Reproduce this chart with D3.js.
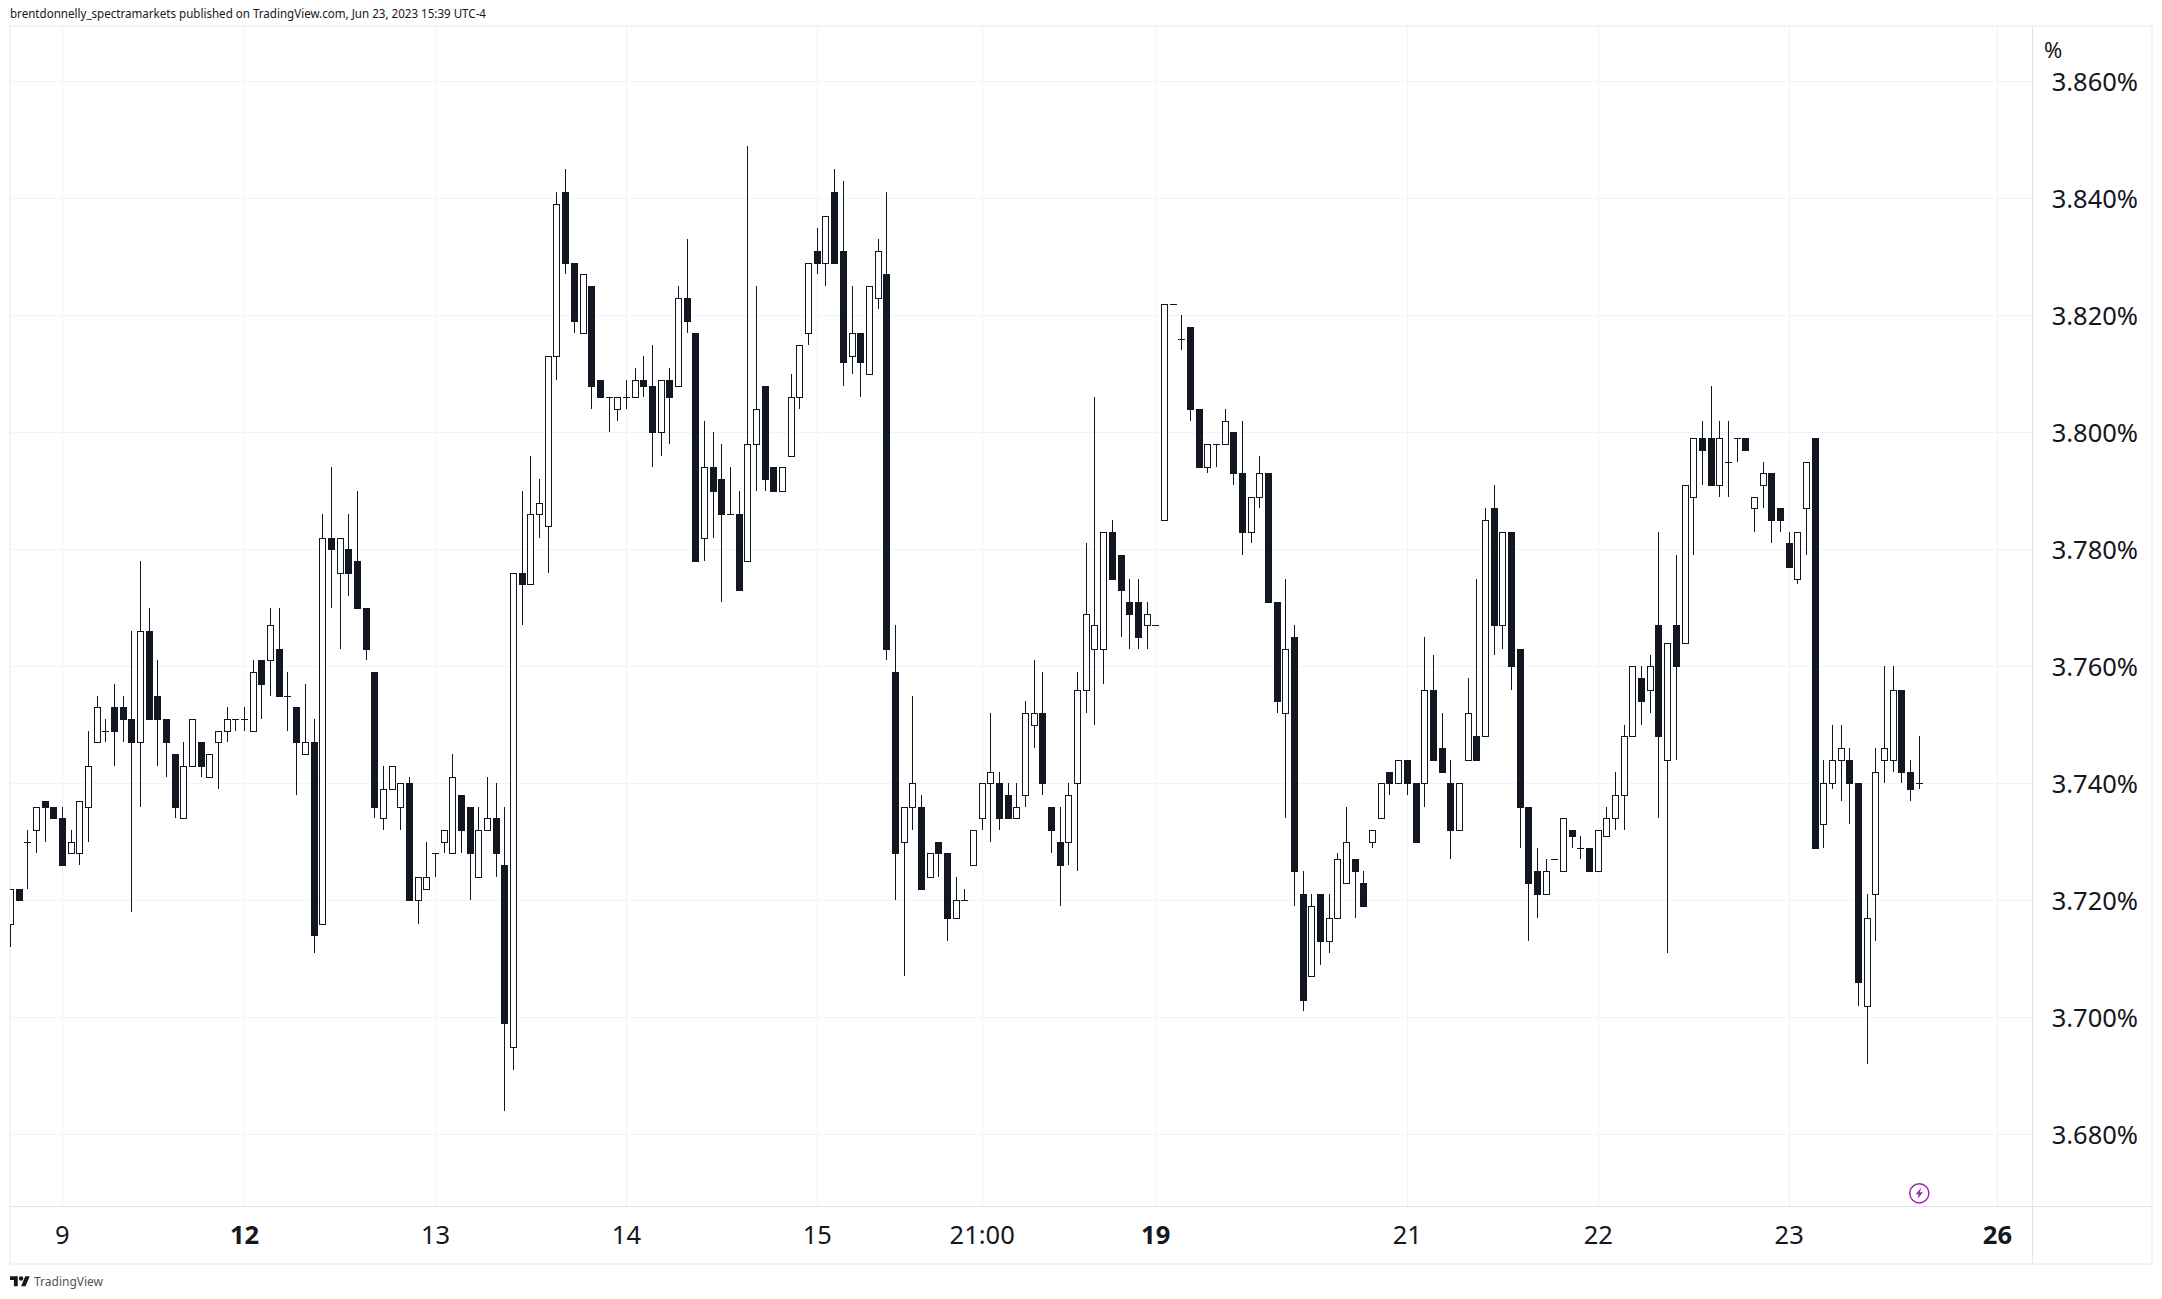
<!DOCTYPE html>
<html>
<head>
<meta charset="utf-8">
<style>
html,body{margin:0;padding:0;background:#fff}
svg{display:block}
text{font-family:"Noto Sans",sans-serif;fill:#131722}
</style>
<script src="https://cdn.jsdelivr.net/npm/d3@7/dist/d3.min.js"></script>
</head>
<body>
<svg id="c" width="2162" height="1299"></svg>
<script>
const opens=[3.716,3.722,3.730,3.732,3.737,3.736,3.734,3.728,3.728,3.736,
3.747,3.749,3.753,3.753,3.751,3.747,3.766,3.755,3.751,3.745,
3.734,3.743,3.747,3.741,3.747,3.749,3.751,3.751,3.749,3.761,
3.761,3.763,3.755,3.753,3.745,3.747,3.716,3.782,3.776,3.780,
3.778,3.770,3.759,3.734,3.739,3.736,3.740,3.720,3.722,3.728,
3.730,3.728,3.738,3.736,3.724,3.732,3.734,3.726,3.695,3.776,
3.774,3.786,3.784,3.813,3.841,3.829,3.817,3.825,3.809,3.806,
3.804,3.806,3.806,3.809,3.808,3.800,3.809,3.808,3.823,3.817,
3.782,3.794,3.792,3.786,3.786,3.778,3.798,3.808,3.794,3.790,
3.796,3.806,3.817,3.831,3.829,3.841,3.831,3.813,3.817,3.810,
3.823,3.827,3.759,3.730,3.736,3.736,3.724,3.730,3.728,3.717,
3.720,3.726,3.734,3.740,3.740,3.738,3.734,3.738,3.750,3.752,
3.736,3.730,3.730,3.740,3.756,3.763,3.763,3.783,3.779,3.771,
3.771,3.767,3.767,3.785,3.822,3.816,3.818,3.804,3.794,3.798,
3.798,3.800,3.793,3.783,3.789,3.793,3.771,3.752,3.765,3.721,
3.707,3.721,3.713,3.717,3.723,3.727,3.723,3.730,3.734,3.742,
3.740,3.744,3.740,3.740,3.756,3.746,3.740,3.732,3.744,3.748,
3.748,3.787,3.767,3.783,3.763,3.736,3.725,3.721,3.727,3.725,
3.732,3.729,3.729,3.725,3.731,3.734,3.738,3.748,3.758,3.756,
3.767,3.744,3.767,3.764,3.789,3.799,3.799,3.791,3.795,3.799,
3.799,3.787,3.791,3.793,3.787,3.781,3.775,3.787,3.799,3.733,
3.740,3.744,3.744,3.740,3.702,3.721,3.744,3.744,3.756,3.742,3.740];
const highs=[3.722,3.722,3.732,3.736,3.737,3.736,3.736,3.732,3.737,3.749,
3.755,3.751,3.757,3.755,3.766,3.778,3.770,3.761,3.751,3.745,
3.747,3.751,3.747,3.745,3.749,3.753,3.751,3.753,3.761,3.761,
3.770,3.770,3.759,3.753,3.757,3.751,3.786,3.794,3.782,3.786,
3.790,3.770,3.759,3.743,3.743,3.740,3.741,3.724,3.730,3.728,
3.732,3.745,3.738,3.736,3.736,3.741,3.740,3.736,3.776,3.790,
3.796,3.792,3.813,3.841,3.845,3.829,3.827,3.825,3.809,3.806,
3.806,3.809,3.811,3.813,3.815,3.809,3.811,3.825,3.833,3.817,
3.802,3.800,3.798,3.794,3.790,3.849,3.825,3.808,3.794,3.794,
3.810,3.815,3.829,3.835,3.837,3.845,3.843,3.825,3.817,3.825,
3.833,3.841,3.767,3.736,3.755,3.738,3.728,3.730,3.728,3.724,
3.722,3.732,3.740,3.752,3.742,3.740,3.740,3.754,3.761,3.759,
3.736,3.736,3.740,3.759,3.781,3.806,3.783,3.785,3.779,3.775,
3.775,3.771,3.767,3.822,3.822,3.820,3.818,3.804,3.798,3.798,
3.804,3.800,3.802,3.789,3.796,3.793,3.771,3.775,3.767,3.725,
3.721,3.721,3.721,3.728,3.736,3.727,3.725,3.732,3.740,3.742,
3.744,3.744,3.740,3.765,3.762,3.752,3.744,3.740,3.758,3.775,
3.787,3.791,3.783,3.783,3.763,3.736,3.729,3.727,3.727,3.734,
3.732,3.731,3.729,3.732,3.736,3.742,3.750,3.760,3.760,3.762,
3.783,3.764,3.779,3.791,3.799,3.802,3.808,3.802,3.802,3.799,
3.799,3.789,3.795,3.793,3.787,3.783,3.783,3.795,3.799,3.744,
3.750,3.750,3.746,3.740,3.721,3.746,3.760,3.760,3.756,3.744,3.748];
const lows=[3.712,3.720,3.722,3.728,3.730,3.734,3.726,3.728,3.726,3.730,
3.747,3.747,3.743,3.747,3.718,3.736,3.751,3.743,3.741,3.734,
3.734,3.743,3.741,3.741,3.739,3.747,3.749,3.749,3.749,3.751,
3.755,3.755,3.749,3.738,3.745,3.711,3.716,3.770,3.763,3.772,
3.770,3.761,3.734,3.732,3.739,3.732,3.720,3.716,3.722,3.724,
3.728,3.728,3.728,3.720,3.724,3.732,3.724,3.684,3.691,3.767,
3.774,3.782,3.776,3.809,3.827,3.817,3.817,3.804,3.806,3.800,
3.802,3.804,3.806,3.806,3.794,3.796,3.798,3.808,3.817,3.778,
3.778,3.782,3.771,3.786,3.773,3.778,3.790,3.790,3.790,3.790,
3.796,3.804,3.815,3.827,3.825,3.829,3.808,3.810,3.806,3.810,
3.821,3.761,3.720,3.707,3.732,3.722,3.724,3.724,3.713,3.717,
3.720,3.726,3.732,3.730,3.732,3.734,3.734,3.736,3.746,3.738,
3.728,3.719,3.726,3.725,3.752,3.750,3.757,3.775,3.765,3.763,
3.763,3.763,3.767,3.785,3.822,3.814,3.802,3.794,3.793,3.794,
3.798,3.791,3.779,3.781,3.787,3.771,3.752,3.734,3.719,3.701,
3.707,3.709,3.711,3.717,3.723,3.717,3.719,3.729,3.734,3.738,
3.740,3.738,3.730,3.736,3.744,3.742,3.727,3.732,3.744,3.744,
3.748,3.762,3.763,3.756,3.729,3.713,3.717,3.721,3.727,3.725,
3.729,3.727,3.725,3.725,3.731,3.732,3.732,3.748,3.750,3.752,
3.734,3.711,3.744,3.764,3.779,3.791,3.791,3.789,3.789,3.795,
3.797,3.783,3.787,3.781,3.783,3.777,3.774,3.779,3.729,3.729,
3.739,3.737,3.733,3.702,3.692,3.713,3.740,3.742,3.740,3.737,3.739];
const closes=[3.722,3.720,3.730,3.736,3.736,3.734,3.726,3.730,3.737,3.743,
3.753,3.749,3.749,3.751,3.747,3.766,3.751,3.751,3.747,3.736,
3.743,3.751,3.743,3.745,3.749,3.751,3.751,3.751,3.759,3.757,
3.767,3.755,3.755,3.747,3.747,3.714,3.782,3.780,3.782,3.776,
3.770,3.763,3.736,3.739,3.743,3.740,3.720,3.724,3.724,3.728,
3.732,3.741,3.732,3.728,3.732,3.734,3.728,3.699,3.776,3.774,
3.786,3.788,3.813,3.839,3.829,3.819,3.827,3.808,3.806,3.806,
3.806,3.806,3.809,3.808,3.800,3.809,3.806,3.823,3.819,3.778,
3.794,3.790,3.786,3.786,3.773,3.798,3.804,3.792,3.790,3.794,
3.806,3.815,3.829,3.829,3.837,3.829,3.812,3.817,3.812,3.825,
3.831,3.763,3.728,3.736,3.740,3.722,3.728,3.728,3.717,3.720,
3.720,3.732,3.740,3.742,3.734,3.734,3.736,3.752,3.752,3.740,
3.732,3.726,3.738,3.756,3.769,3.767,3.783,3.775,3.773,3.769,
3.765,3.769,3.767,3.822,3.822,3.816,3.804,3.794,3.798,3.798,
3.802,3.793,3.783,3.789,3.793,3.771,3.754,3.763,3.725,3.703,
3.719,3.713,3.717,3.727,3.730,3.725,3.719,3.732,3.740,3.740,
3.744,3.740,3.730,3.756,3.744,3.742,3.732,3.740,3.752,3.744,
3.785,3.767,3.783,3.760,3.736,3.723,3.721,3.725,3.727,3.734,
3.731,3.729,3.725,3.732,3.734,3.738,3.748,3.760,3.754,3.760,
3.748,3.764,3.760,3.791,3.799,3.797,3.791,3.799,3.795,3.799,
3.797,3.789,3.793,3.785,3.785,3.777,3.783,3.795,3.729,3.740,
3.744,3.746,3.740,3.706,3.717,3.742,3.746,3.756,3.742,3.739,3.740];

const priceTicks=[3.68,3.70,3.72,3.74,3.76,3.78,3.80,3.82,3.84,3.86];
const timeTickBars=[6,27,49,71,93,112,132,161,183,205,229];
const timeTickLabels=["9","12","13","14","15","21:00","19","21","22","23","26"];
const boldTimeLabels=["12","19","26"];

const INK="#131722",GRID="#f0f3fa",SEP="#e0e3eb";
const L=10,T=27,R=2032,B=1206;
const svg=d3.select("#c");
const x=d3.scaleLinear().domain([0,220]).range([10.33,1919.3]);
const y=d3.scaleLinear().domain([3.68,3.86]).range([1134.3,81.3]);
const n=opens.length;
const idx=d3.range(n);

// grid
const grid=svg.append("g").attr("shape-rendering","crispEdges");
grid.selectAll(".h").data(priceTicks).join("line")
 .attr("x1",L).attr("x2",R).attr("y1",d=>Math.floor(y(d))+.5).attr("y2",d=>Math.floor(y(d))+.5)
 .attr("stroke",GRID);
grid.selectAll(".v").data(timeTickBars).join("line")
 .attr("y1",T).attr("y2",B).attr("x1",d=>Math.floor(x(d))+.5).attr("x2",d=>Math.floor(x(d))+.5)
 .attr("stroke",GRID);

// frame and separators
const border=svg.append("g").attr("shape-rendering","crispEdges");
border.append("rect").attr("x",10).attr("y",26).attr("width",2142).attr("height",1238)
 .attr("fill","none").attr("stroke",GRID).attr("stroke-width",2);
border.append("line").attr("x1",R+.5).attr("x2",R+.5).attr("y1",T).attr("y2",1263).attr("stroke",SEP);
border.append("line").attr("x1",L).attr("x2",2151).attr("y1",B+.5).attr("y2",B+.5).attr("stroke",SEP);

// candles
svg.append("clipPath").attr("id","pane").append("rect").attr("x",L).attr("y",T).attr("width",R-L).attr("height",B-T);
const pane=svg.append("g").attr("clip-path","url(#pane)").attr("shape-rendering","crispEdges");
const BW=7;
const cx=i=>Math.floor(x(i));
const bodyTop=i=>Math.round(y(Math.max(opens[i],closes[i])));
const bodyBot=i=>Math.round(y(Math.min(opens[i],closes[i])));
pane.selectAll(".wick").data(idx).join("rect").attr("class","wick")
 .attr("x",cx).attr("width",1)
 .attr("y",i=>Math.round(y(highs[i])))
 .attr("height",i=>Math.max(1,Math.round(y(lows[i]))-Math.round(y(highs[i]))))
 .attr("fill",INK);
pane.selectAll(".doji").data(idx.filter(i=>opens[i]===closes[i])).join("rect").attr("class","doji")
 .attr("x",i=>cx(i)-3).attr("width",BW).attr("y",bodyTop).attr("height",1).attr("fill",INK);
pane.selectAll(".down").data(idx.filter(i=>opens[i]>closes[i])).join("rect").attr("class","down")
 .attr("x",i=>cx(i)-3).attr("width",BW).attr("y",bodyTop).attr("height",i=>Math.max(1,bodyBot(i)-bodyTop(i)+1)).attr("fill",INK);
pane.selectAll(".up").data(idx.filter(i=>opens[i]<closes[i])).join("rect").attr("class","up")
 .attr("x",i=>cx(i)-3+.5).attr("width",BW-1).attr("y",i=>bodyTop(i)+.5).attr("height",i=>Math.max(1,bodyBot(i)-bodyTop(i)))
 .attr("fill","#fff").attr("stroke",INK).attr("stroke-width",1);

// price axis
svg.append("g").selectAll("text").data(priceTicks).join("text")
 .attr("x",2138).attr("y",d=>y(d)+9.5).attr("text-anchor","end")
 .attr("font-size",25.5).text(d=>d.toFixed(3)+"%");
svg.append("text").attr("x",2044).attr("y",58).attr("font-size",22).text("%");

// time axis
svg.append("g").selectAll("text").data(timeTickBars).join("text")
 .attr("x",d=>x(d)).attr("y",1244).attr("text-anchor","middle")
 .attr("font-size",25.5)
 .attr("font-weight",(d,i)=>boldTimeLabels.includes(timeTickLabels[i])?700:400)
 .text((d,i)=>timeTickLabels[i]);

// header, footer
svg.append("text").attr("x",10).attr("y",18).attr("font-size",13)
 .attr("textLength",476).attr("lengthAdjust","spacingAndGlyphs")
 .text("brentdonnelly_spectramarkets published on TradingView.com, Jun 23, 2023 15:39 UTC-4");
const logo=svg.append("g").attr("transform","translate(10,1274) scale(0.555)").attr("fill",INK);
logo.append("path").attr("d","M14 22H7V11H0V4h14v18zM28 22h-8l7.5-18h8L28 22z");
logo.append("circle").attr("cx",20).attr("cy",8).attr("r",4);
svg.append("text").attr("x",34).attr("y",1286).attr("font-size",13)
 .attr("textLength",69).attr("lengthAdjust","spacingAndGlyphs")
 .style("fill","#50535e").text("TradingView");

// lightning marker
const mark=svg.append("g").attr("transform","translate(1919.3,1193.3)");
mark.append("circle").attr("r",9.6).attr("fill","#fff").attr("stroke","#9c27b0").attr("stroke-width",1.5);
mark.append("path").attr("d","M1.8 -5.6 L-3.6 1 L-0.6 1 L-1.8 5.6 L3.6 -1 L0.6 -1 Z").attr("fill","#9c27b0");
</script>
</body>
</html>
